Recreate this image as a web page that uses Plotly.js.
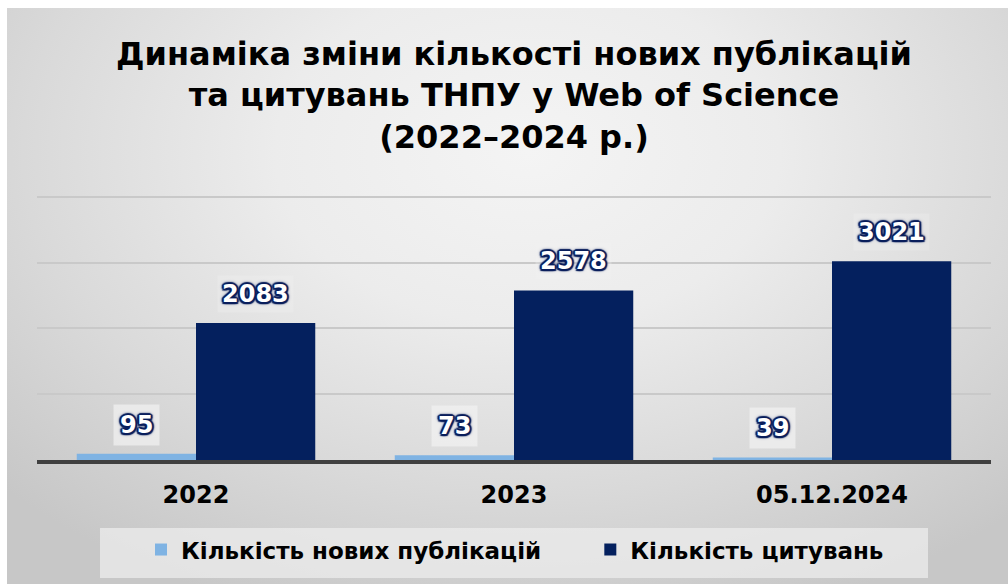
<!DOCTYPE html>
<html><head><meta charset="utf-8">
<script src="https://cdn.plot.ly/plotly-3.0.1.min.js"></script>
<style>
html,body{margin:0;padding:0;background:#fff;}
#bg{position:absolute;left:7px;top:8px;width:1001px;height:576px;
background:radial-gradient(ellipse 72% 85% at 52% 25%, #f4f4f4 0%, #ececec 35%, #d9d9d9 70%, #c7c7c7 100%);}
#chart{position:absolute;left:0;top:0;width:1008px;height:584px;}
</style></head>
<body>
<div id="bg"></div>
<div id="chart"></div>
<script>
const categories = ['2022', '2023', '05.12.2024'];
const publications = [95, 73, 39];
const citations = [2083, 2578, 3021];
const seriesNames = ['Кількість нових публікацій', 'Кількість цитувань'];

const FONT = 'DejaVu Sans, Liberation Sans, Arial, sans-serif';
const NAVY = '#0a1f5c';
const labelFont = {family: FONT, size: 24, color: '#ffffff', weight: 'bold',
  shadow: `2px 0 1px ${NAVY}, -2px 0 1px ${NAVY}, 0 2px 1px ${NAVY}, 0 -2px 1px ${NAVY}, 1.5px 1.5px 1px ${NAVY}, -1.5px -1.5px 1px ${NAVY}, 1.5px -1.5px 1px ${NAVY}, -1.5px 1.5px 1px ${NAVY}, 0 0 4px ${NAVY}`};

const annotations = [];
categories.forEach((c, i) => {
  annotations.push({x: i, y: publications[i], xref: 'x', yref: 'y', text: String(publications[i]),
    showarrow: false, xshift: -60, yshift: 29, yanchor: 'middle', font: labelFont,
    bgcolor: 'rgba(242,242,242,0.7)', borderpad: 6});
  annotations.push({x: i, y: citations[i], xref: 'x', yref: 'y', text: String(citations[i]),
    showarrow: false, xshift: 59, yshift: 29, yanchor: 'middle', font: labelFont,
    bgcolor: 'rgba(242,242,242,0.3)', borderpad: 4});
});

const data = [
  {type: 'bar', x: categories, y: publications, name: seriesNames[0], legend: 'legend',
   marker: {color: '#7fb3e3', line: {width: 0}}, hoverinfo: 'skip'},
  {type: 'bar', x: categories, y: citations, name: seriesNames[1], legend: 'legend2',
   marker: {color: '#04205e', line: {width: 0}}, hoverinfo: 'skip'}
];

const legendBase = {orientation: 'h', xanchor: 'left', y: -0.338, yanchor: 'middle',
  bgcolor: 'rgba(0,0,0,0)', font: {size: 23, weight: 'bold', color: '#000', family: FONT}, itemwidth: 30};

const layout = {
  width: 1008, height: 584,
  paper_bgcolor: 'rgba(0,0,0,0)', plot_bgcolor: 'rgba(0,0,0,0)',
  margin: {l: 37, r: 17, t: 195, b: 124},
  barmode: 'group', bargap: 0.25, bargroupgap: 0,
  font: {family: FONT, color: '#000'},
  title: {text: 'Динаміка зміни кількості нових публікацій<br>та цитувань ТНПУ у Web of Science<br>(2022–2024 р.)',
    font: {size: 32, weight: 'bold', color: '#000', family: FONT},
    x: 0.5, xref: 'paper', xanchor: 'center', y: 0.889, yref: 'container', yanchor: 'top'},
  xaxis: {type: 'category', range: [-0.5, 2.5], showline: true, linecolor: '#404040', linewidth: 4, ticks: '',
    ticklabelstandoff: 10, tickfont: {size: 24, weight: 'bold', color: '#000', family: FONT},
    showgrid: false, fixedrange: true},
  yaxis: {range: [0, 4030], dtick: 1000, showticklabels: false, showgrid: true,
    gridcolor: '#c9c9c9', gridwidth: 2, zeroline: false, fixedrange: true},
  showlegend: true,
  legend: Object.assign({}, legendBase, {x: 0.109}),
  legend2: Object.assign({}, legendBase, {x: 0.580}),
  shapes: [{type: 'rect', xref: 'paper', yref: 'paper', x0: 0.066, x1: 0.934, y0: -0.2566, y1: -0.4453,
    fillcolor: 'rgba(236,236,236,0.75)', line: {width: 0}, layer: 'below'}],
  annotations: annotations
};

Plotly.newPlot('chart', data, layout, {displayModeBar: false, staticPlot: true});
</script>
</body></html>
